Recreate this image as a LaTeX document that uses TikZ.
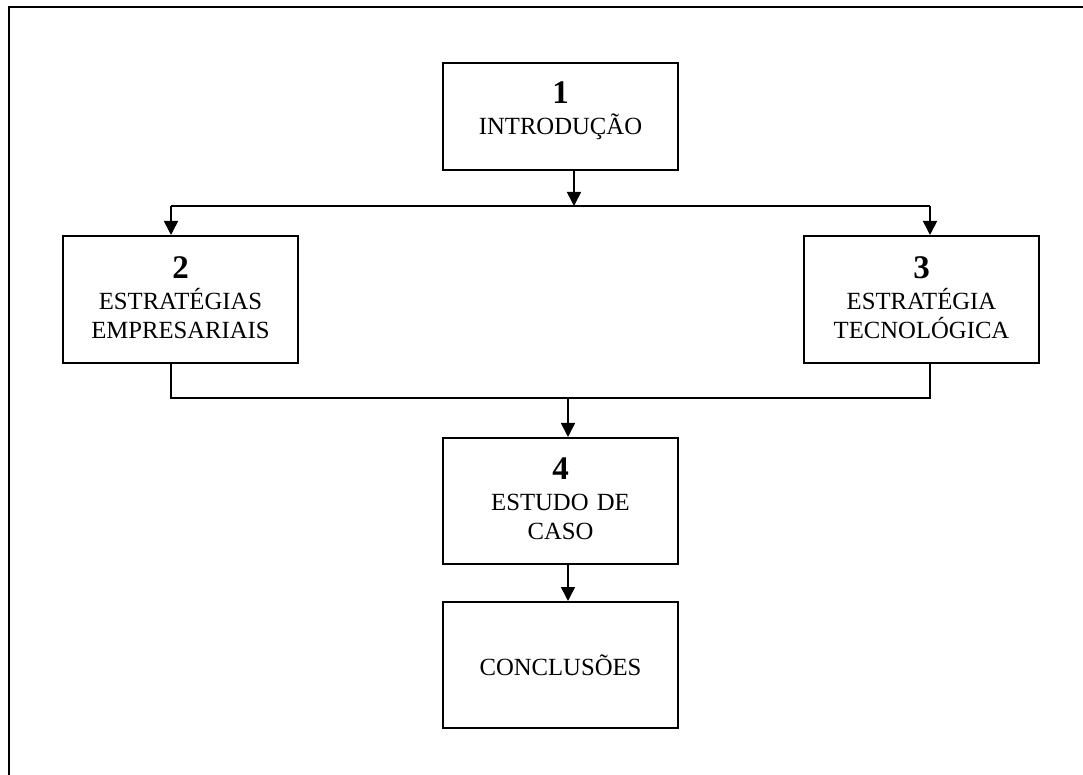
\documentclass[tikz,border=0pt]{standalone}
\usepackage{fontspec}
\setmainfont{Liberation Serif}
\usetikzlibrary{arrows.meta, positioning}
\tikzset{
  % Chapter boxes
  chapbox/.style={rectangle, draw=black, line width=1pt, text width=117.5pt, inner xsep=0pt, inner ysep=0pt, text centered, align=center, font=\fontsize{12.35}{14.5}\selectfont},
  % Connectors
  conn/.style={line width=0.8pt},
  arrow/.style={-{Triangle[length=7pt, width=7pt]}, line width=0.8pt},
  frame/.style={line width=1.3pt},
}
\newcommand{\capnum}[1]{{\fontsize{16.5}{14.5}\selectfont\bfseries #1}\\[1pt]}

\begin{document}
\begin{tikzpicture}[x=0.5pt, y=-0.5pt]
    \useasboundingbox (0,0) rectangle (1083,775);

    % Page frame
    \draw[frame] (1083,7) -- (9,7) -- (9,775);

    % Chapter 1
    \node[chapbox, anchor=north west, text height=20.5pt, text depth=33pt] (intro) at (442,62) {\capnum{1}INTRODUÇÃO};

    % Chapters 2 and 3
    \node[chapbox, anchor=north west, text height=21.5pt, text depth=42pt] (empr) at (62,235) {\capnum{2}ESTRATÉGIAS\\EMPRESARIAIS};
    \node[chapbox, anchor=north west, text height=21.5pt, text depth=42pt] (tecn) at (803,235) {\capnum{3}ESTRATÉGIA\\TECNOLÓGICA};

    % Chapter 4 and conclusions
    \node[chapbox, below=133pt of intro, text height=21pt, text depth=42pt] (caso) {\capnum{4}ESTUDO DE\\CASO};
    \node[chapbox, below=18pt of caso, text height=36.5pt, text depth=26.5pt] (concl) {CONCLUSÕES};

    % Branch points
    \coordinate (split) at (574,206);
    \coordinate (lft) at (171,206);
    \coordinate (rgt) at (930,206);
    \coordinate (join) at (568,398);

    % Arrows
    \draw[arrow] (intro.south -| split) -- (split);
    \draw[conn] (lft) -- (rgt);
    \draw[arrow] (lft) -- (lft |- empr.north);
    \draw[arrow] (rgt) -- (rgt |- tecn.north);
    \draw[conn] (lft |- empr.south) -- (lft |- join) -- (rgt |- join) -- (rgt |- tecn.south);
    \draw[arrow] (join) -- (join |- caso.north);
    \draw[arrow] (join |- caso.south) -- (join |- concl.north);
\end{tikzpicture}
\end{document}
